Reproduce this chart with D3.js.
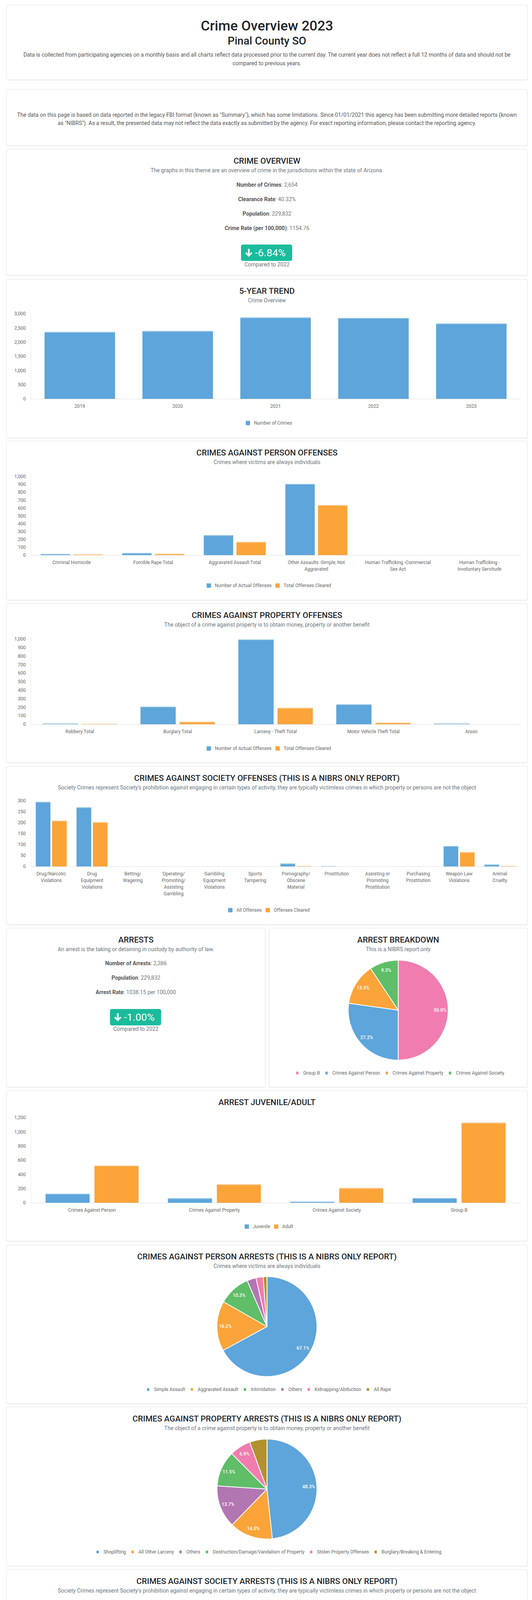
<!DOCTYPE html>
<html><head><meta charset="utf-8">
<script src="https://cdn.jsdelivr.net/npm/d3@7"></script>
<style>
html,body{margin:0;padding:0;background:#fff;overflow:hidden;}
svg{display:block;font-family:Roboto,"Noto Sans",sans-serif;}
</style></head><body>
<svg id="page" width="1362" height="4849"></svg>
<script>
// ---------------- DATA ----------------
const pageTitle = "Crime Overview 2023";
const agencyName = "Pinal County SO";
const introLines = ["Data is collected from participating agencies on a monthly basis and all charts reflect data processed prior to the current day. The current year does not reflect a full 12 months of data and should not be",
  "compared to previous years."];
const noticeLines = ["The data on this page is based on data reported in the legacy FBI format (known as \"Summary\"), which has some limitations. Since 01/01/2021 this agency has been submitting more detailed reports (known",
  "as \"NIBRS\"). As a result, the presented data may not reflect the data exactly as submitted by the agency. For exact reporting information, please contact the reporting agency."];

const overviewLabels = ["Number of Crimes", "Clearance Rate", "Population", "Crime Rate (per 100,000)"];
const overviewValues = ["2,654", "40.32%", "229,832", "1154.76"];
const overviewChange = "-6.84%";
const arrestLabels = ["Number of Arrests", "Population", "Arrest Rate"];
const arrestValues = ["2,386", "229,832", "1038.15 per 100,000"];
const arrestChange = "-1.00%";
const compareText = "Compared to 2022";

const trendYears = ["2019", "2020", "2021", "2022", "2023"];
const trendCrimes = [2355, 2387, 2866, 2849, 2654];

const personCats = [["Criminal Homicide"], ["Forcible Rape Total"], ["Aggravated Assault Total"],
  ["Other Assaults -Simple, Not", "Aggravated"], ["Human Trafficking -Commercial", "Sex Act"], ["Human Trafficking -", "Involuntary Servitude"]];
const personActual = [15, 26, 254, 906, 0, 0];
const personCleared = [10, 16, 166, 636, 0, 0];

const propertyCats = [["Robbery Total"], ["Burglary Total"], ["Larceny - Theft Total"], ["Motor Vehicle Theft Total"], ["Arson"]];
const propertyActual = [9, 206, 995, 234, 9];
const propertyCleared = [5, 28, 191, 18, 0];

const societyCats = [["Drug/Narcotic", "Violations"], ["Drug", "Equipment", "Violations"], ["Betting/", "Wagering"],
  ["Operating/", "Promoting/", "Assisting", "Gambling"], ["Gambling", "Equipment", "Violations"], ["Sports", "Tampering"],
  ["Pornography/", "Obscene", "Material"], ["Prostitution"], ["Assisting or", "Promoting", "Prostitution"],
  ["Purchasing", "Prostitution"], ["Weapon Law", "Violations"], ["Animal", "Cruelty"]];
const societyAll = [295, 270, 0, 0, 0, 0, 13, 1, 0, 0, 93, 9];
const societyCleared = [209, 202, 0, 0, 0, 0, 2, 0, 0, 0, 65, 2];

const breakdownLabels = ["Group B", "Crimes Against Person", "Crimes Against Property", "Crimes Against Society"];
const breakdownValues = [1193, 649, 322, 222];

const ageCats = [["Crimes Against Person"], ["Crimes Against Property"], ["Crimes Against Society"], ["Group B"]];
const juvenileArrests = [127, 63, 16, 66];
const adultArrests = [522, 259, 206, 1127];

const personArrestLabels = ["Simple Assault", "Aggravated Assault", "Intimidation", "Others", "Kidnapping/Abduction", "All Rape"];
const personArrestValues = [436, 105, 67, 19, 15, 8];

const propertyArrestLabels = ["Shoplifting", "All Other Larceny", "Others", "Destruction/Damage/Vandalism of Property", "Stolen Property Offenses", "Burglary/Breaking & Entering"];
const propertyArrestValues = [155, 45, 44, 37, 22, 18];

const societyArrestLabels = ["Drug/Narcotic Violations", "Drug Equipment Violations", "Weapon Law Violations", "Animal Cruelty", "Betting/Wagering", "Others"];
const societyArrestValues = [147, 53, 21, 2, 0, 0];

const groupBLabels = ["Driving Under the Influence", "Disorderly Conduct", "All Other Offenses", "Trespass of Real Property", "Liquor Law Violations", "Others"];
const groupBValues = [595, 273, 237, 58, 23, 7];

// ---------------- STYLE ----------------
const BLUE = "#5DA5DA", ORANGE = "#FAA43A", GREEN = "#60BD68", PINK = "#F17CB0", PURPLE = "#B276B2", GOLD = "#B2912F";
const TEAL = "#1ABC9C";
const TITLE_C = "#212529", SUB_C = "#6c757d", TICK_C = "#666";

const svg = d3.select("#page");
const defs = svg.append("defs");
const f = defs.append("filter").attr("id", "shadow").attr("x", "-5%").attr("y", "-5%").attr("width", "110%").attr("height", "115%");
f.append("feDropShadow").attr("dx", 0).attr("dy", 1).attr("stdDeviation", 1.2).attr("flood-color", "#000").attr("flood-opacity", 0.10);

const CARD_X = 17, CARD_W = 1333, CX = CARD_X + CARD_W / 2;

function card(x, y, w, h) {
  svg.append("rect").attr("x", x).attr("y", y).attr("width", w).attr("height", h)
    .attr("rx", 3).attr("fill", "#fff").attr("stroke", "#e4e4e4").attr("stroke-width", 1)
    .attr("filter", "url(#shadow)");
}
function text(x, y, str, size, opts = {}) {
  return svg.append("text").attr("x", x).attr("y", y).attr("text-anchor", opts.anchor || "middle")
    .attr("font-size", size).attr("font-weight", opts.weight || 400).attr("fill", opts.color || "#333").text(str);
}
function header(cx, top, title, sub) {
  text(cx, top + 37, title, 21, { weight: 500, color: TITLE_C });
  if (sub) text(cx, top + 59, sub, 14, { color: SUB_C });
}
function stats(cx, y0, labels, values) {
  labels.forEach((l, i) => {
    const t = svg.append("text").attr("x", cx).attr("y", y0 + i * 37).attr("text-anchor", "middle").attr("font-size", 14);
    t.append("tspan").attr("font-weight", 700).attr("fill", "#555").text(l);
    t.append("tspan").attr("fill", "#777").text(": " + values[i]);
  });
}
function badge(cx, top, str) {
  const g = svg.append("g");
  const w = 131, h = 42, x = cx - w / 2 - 1;
  g.append("rect").attr("x", x).attr("y", top).attr("width", w).attr("height", h).attr("rx", 5).attr("fill", TEAL);
  const ax = x + 20, ay = top + 11;
  g.append("path").attr("fill", "#fff")
    .attr("d", `M${ax - 2.2},${ay} H${ax + 2.2} V${ay + 13} L${ax + 6.2},${ay + 8.6} L${ax + 9},${ay + 11.4} L${ax},${ay + 20.5} L${ax - 9},${ay + 11.4} L${ax - 6.2},${ay + 8.6} L${ax - 2.2},${ay + 13} Z`);
  g.append("text").attr("x", x + 36).attr("y", top + 30).attr("font-size", 26.5).attr("fill", "#fff").text(str);
  text(cx, top + 56, compareText, 14, { color: SUB_C });
}

function legend(cx, y, names, colors, box) {
  const g = svg.append("g");
  let x = 0;
  names.forEach((n, i) => {
    g.append("rect").attr("x", x).attr("y", y - box.h / 2).attr("width", box.w).attr("height", box.h).attr("fill", colors[i]);
    const t = g.append("text").attr("x", x + box.w + box.gap).attr("y", y + 4.2).attr("font-size", 12).attr("fill", TICK_C).text(n);
    x += box.w + box.gap + t.node().getComputedTextLength() + box.space;
  });
  const total = x - box.space;
  g.attr("transform", `translate(${cx - total / 2},0)`);
}

function barChart(cfg) {
  const x0 = 79, x1 = 1332;
  const g = svg.append("g");
  const y = d3.scaleLinear().domain([0, cfg.yMax]).range([cfg.plotBottom, cfg.plotTop]);
  const xb = d3.scaleBand().domain(d3.range(cfg.cats.length)).range([x0, x1]).padding(0);
  const bw = xb.bandwidth();
  const xs = d3.scaleBand().domain(d3.range(cfg.series.length)).range([bw * 0.1, bw * 0.9]).paddingInner(0.1).paddingOuter(0.05);
  g.append("line").attr("x1", x0 + 0.5).attr("x2", x0 + 0.5).attr("y1", cfg.plotTop).attr("y2", cfg.plotBottom).attr("stroke", "#e8e8e8");
  const ticks = d3.range(0, cfg.yMax + 1, cfg.yStep);
  g.selectAll(".yt").data(ticks).join("text").attr("x", 66).attr("y", d => y(d) + 4.2).attr("text-anchor", "end")
    .attr("font-size", 12).attr("fill", TICK_C).text(d => d3.format(",")(d));
  cfg.series.forEach((s, si) => {
    const light = d3.interpolateRgb(s.color, "#fff")(0.35);
    const sg = g.append("g");
    sg.selectAll("rect.b").data(s.values).join("rect").attr("class", "b")
      .attr("x", (d, i) => xb(i) + xs(si)).attr("width", xs.bandwidth())
      .attr("y", d => y(d)).attr("height", d => cfg.plotBottom - y(d)).attr("fill", s.color);
    sg.selectAll("rect.t").data(s.values).join("rect").attr("class", "t")
      .attr("x", (d, i) => xb(i) + xs(si)).attr("width", xs.bandwidth())
      .attr("y", d => y(d)).attr("height", d => d > 0 ? Math.min(2, cfg.plotBottom - y(d)) : 0).attr("fill", light);
  });
  g.append("line").attr("x1", x0).attr("x2", x1).attr("y1", cfg.plotBottom + 0.5).attr("y2", cfg.plotBottom + 0.5).attr("stroke", "#dedede");
  cfg.cats.forEach((lines, i) => {
    lines.forEach((ln, k) => {
      g.append("text").attr("x", xb(i) + bw / 2).attr("y", cfg.plotBottom + 23 + k * 17).attr("text-anchor", "middle")
        .attr("font-size", 12).attr("fill", TICK_C).text(ln);
    });
  });
  legend(CX + 5, cfg.legendY, cfg.series.map(s => s.name), cfg.series.map(s => s.color), { w: 11, h: 11, gap: 10, space: 10 });
}

function pieChart(cx, cy, labels, values, colors, legendY) {
  const r = 128;
  const g = svg.append("g").attr("transform", `translate(${cx},${cy})`);
  const arcs = d3.pie().sort(null).value(d => d)(values);
  const arc = d3.arc().innerRadius(0).outerRadius(r);
  const lab = d3.arc().innerRadius(107).outerRadius(107);
  const total = d3.sum(values);
  g.selectAll("path").data(arcs.filter(d => d.data > 0)).join("path").attr("d", arc).attr("fill", d => colors[d.index])
    .attr("stroke", "#fff").attr("stroke-width", 2).attr("stroke-linejoin", "round");
  g.selectAll("text").data(arcs.filter(d => d.data / total >= 0.06)).join("text")
    .attr("transform", d => `translate(${lab.centroid(d)})`).attr("dy", "0.35em").attr("text-anchor", "middle")
    .attr("font-size", 12).attr("font-weight", 500).attr("fill", "#fff")
    .text(d => (d.data / total * 100).toFixed(1) + "%");
  legend(cx + 5, legendY, labels, colors, { w: 6, h: 7, gap: 12, space: 14 });
}

// ---------------- HEADER ----------------
card(CARD_X, 13, CARD_W, 191);
text(CX, 78, pageTitle, 35.5, { weight: 500, color: TITLE_C });
text(CX, 114, agencyName, 28, { weight: 500, color: TITLE_C });
introLines.forEach((l, i) => text(CX, 145 + i * 21.5, l, 14, { color: "#555" }));

card(CARD_X, 229, CARD_W, 143);
noticeLines.forEach((l, i) => text(CX, 299 + i * 21, l, 14, { color: "#555" }));

// ---------------- CRIME OVERVIEW ----------------
card(CARD_X, 382, CARD_W, 323);
header(CX, 382, "CRIME OVERVIEW", "The graphs in this theme are an overview of crime in the jurisdictions within the state of Arizona.");
stats(CX, 478, overviewLabels, overviewValues);
badge(CX, 626, overviewChange);

// ---------------- 5-YEAR TREND ----------------
card(CARD_X, 715, CARD_W, 406);
header(CX, 715, "5-YEAR TREND", "Crime Overview");
barChart({ cats: trendYears.map(d => [d]), series: [{ name: "Number of Crimes", values: trendCrimes, color: BLUE }],
  yMax: 3000, yStep: 500, plotTop: 803, plotBottom: 1021, legendY: 1083 });

// ---------------- PERSON OFFENSES ----------------
card(CARD_X, 1129, CARD_W, 407);
header(CX, 1129, "CRIMES AGAINST PERSON OFFENSES", "Crimes where victims are always individuals");
barChart({ cats: personCats, series: [{ name: "Number of Actual Offenses", values: personActual, color: BLUE },
  { name: "Total Offenses Cleared", values: personCleared, color: ORANGE }],
  yMax: 1000, yStep: 100, plotTop: 1220, plotBottom: 1421, legendY: 1499 });

// ---------------- PROPERTY OFFENSES ----------------
card(CARD_X, 1545, CARD_W, 407);
header(CX, 1545, "CRIMES AGAINST PROPERTY OFFENSES", "The object of a crime against property is to obtain money, property or another benefit");
barChart({ cats: propertyCats, series: [{ name: "Number of Actual Offenses", values: propertyActual, color: BLUE },
  { name: "Total Offenses Cleared", values: propertyCleared, color: ORANGE }],
  yMax: 1000, yStep: 100, plotTop: 1636, plotBottom: 1854, legendY: 1916 });

// ---------------- SOCIETY OFFENSES ----------------
card(CARD_X, 1962, CARD_W, 405);
header(CX, 1962, "CRIMES AGAINST SOCIETY OFFENSES (THIS IS A NIBRS ONLY REPORT)", "Society Crimes represent Society's prohibition against engaging in certain types of activity, they are typically victimless crimes in which property or persons are not the object");
barChart({ cats: societyCats, series: [{ name: "All Offenses", values: societyAll, color: BLUE },
  { name: "Offenses Cleared", values: societyCleared, color: ORANGE }],
  yMax: 300, yStep: 50, plotTop: 2050, plotBottom: 2218, legendY: 2330 });

// ---------------- ARRESTS ----------------
const LX = 17, LW = 662, RX = 689, RW = 661;
card(LX, 2376, LW, 407);
card(RX, 2376, RW, 407);
header(LX + LW / 2, 2376, "ARRESTS", "An arrest is the taking or detaining in custody by authority of law.");
stats(LX + LW / 2, 2471, arrestLabels, arrestValues);
badge(LX + LW / 2, 2583, arrestChange);
header(RX + RW / 2, 2376, "ARREST BREAKDOWN", "This is a NIBRS report only");
pieChart(RX + RW / 2, 2586, breakdownLabels, breakdownValues, [PINK, BLUE, ORANGE, GREEN], 2747);

// ---------------- JUVENILE / ADULT ----------------
card(CARD_X, 2792, CARD_W, 385);
header(CX, 2792, "ARREST JUVENILE/ADULT", null);
barChart({ cats: ageCats, series: [{ name: "Juvenile", values: juvenileArrests, color: BLUE },
  { name: "Adult", values: adultArrests, color: ORANGE }],
  yMax: 1200, yStep: 200, plotTop: 2861, plotBottom: 3079, legendY: 3140 });

// ---------------- ARREST PIES ----------------
card(CARD_X, 3187, CARD_W, 406);
header(CX, 3187, "CRIMES AGAINST PERSON ARRESTS (THIS IS A NIBRS ONLY REPORT)", "Crimes where victims are always individuals");
pieChart(CX, 3396, personArrestLabels, personArrestValues, [BLUE, ORANGE, GREEN, PURPLE, PINK, GOLD], 3557);

card(CARD_X, 3602, CARD_W, 407);
header(CX, 3602, "CRIMES AGAINST PROPERTY ARRESTS (THIS IS A NIBRS ONLY REPORT)", "The object of a crime against property is to obtain money, property or another benefit");
pieChart(CX, 3812, propertyArrestLabels, propertyArrestValues, [BLUE, ORANGE, PURPLE, GREEN, PINK, GOLD], 3973);

card(CARD_X, 4018, CARD_W, 406);
header(CX, 4018, "CRIMES AGAINST SOCIETY ARRESTS (THIS IS A NIBRS ONLY REPORT)", "Society Crimes represent Society's prohibition against engaging in certain types of activity, they are typically victimless crimes in which property or persons are not the object");
pieChart(CX, 4227, societyArrestLabels, societyArrestValues, [BLUE, ORANGE, GREEN, PINK, GOLD, PURPLE], 4388);

card(CARD_X, 4433, CARD_W, 407);
header(CX, 4433, "GROUP B ARRESTS (THIS IS A NIBRS ONLY REPORT)", "Group B offenses tend to be minor in nature therefore only arrest data is collected for these crimes");
pieChart(CX, 4643, groupBLabels, groupBValues, [BLUE, ORANGE, GREEN, PINK, GOLD, PURPLE], 4804);
</script>
</body></html>
